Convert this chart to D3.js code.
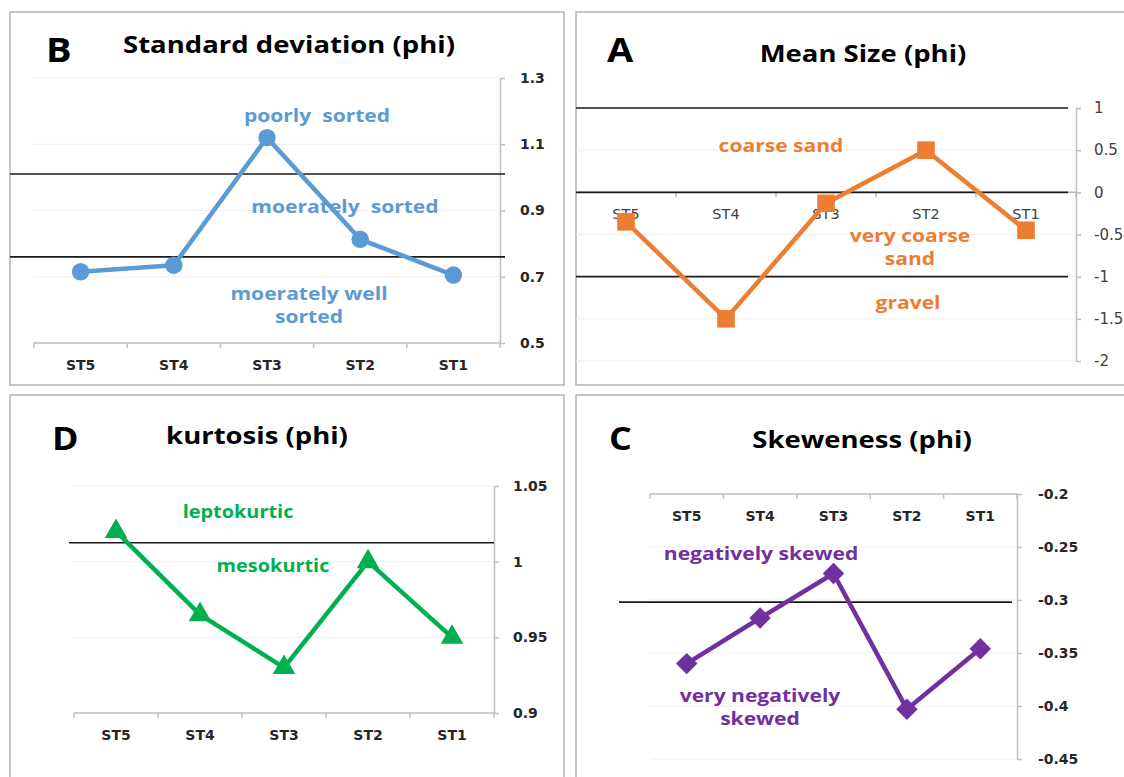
<!DOCTYPE html>
<html><head><meta charset="utf-8">
<script src="https://cdn.jsdelivr.net/npm/d3@7"></script>
<style>
html,body{margin:0;padding:0;background:#fff;}
svg{display:block;}
</style></head>
<body>
<svg id="chart" width="1124" height="777"></svg>
<script>
// ---------------- DATA ----------------
const categories = ["ST5", "ST4", "ST3", "ST2", "ST1"];

const sdValues   = [0.715, 0.735, 1.12, 0.813, 0.705];   // Standard deviation (phi)
const meanValues = [-0.35, -1.5, -0.13, 0.5, -0.45];      // Mean size (phi)
const kurtValues = [1.02, 0.965, 0.93, 1.0, 0.95];        // Kurtosis (phi)
const skewValues = [-0.36, -0.317, -0.275, -0.403, -0.346]; // Skeweness (phi)

const sdTicks   = [0.5, 0.7, 0.9, 1.1, 1.3];
const meanTicks = [-2, -1.5, -1, -0.5, 0, 0.5, 1];
const kurtTicks = [0.9, 0.95, 1, 1.05];
const skewTicks = [-0.45, -0.4, -0.35, -0.3, -0.25, -0.2];

const sdBounds   = [1.01, 0.76];
const meanBounds = [1, 0, -1];
const kurtBounds = [1.0125];
const skewBounds = [-0.302];

const sdLabels   = [["poorly  sorted"], ["moerately  sorted"], ["moerately well", "sorted"]];
const meanLabels = [["coarse sand"], ["very coarse", "sand"], ["gravel"]];
const kurtLabels = [["leptokurtic"], ["mesokurtic"]];
const skewLabels = [["negatively skewed"], ["very negatively", "skewed"]];

// ---------------- DRAW ----------------
const svg = d3.select("#chart");
svg.append("rect").attr("width", 1124).attr("height", 777).attr("fill", "#fff");

const FONT = "'Open Sans', 'Noto Sans', sans-serif";
const AXFONT = "'DejaVu Sans', Verdana, sans-serif";
const SX = 1.17; // horizontal stretch of the reference lettering
const fmt = v => String(v);

function panel(cfg) {
  const g = svg.append("g");
  g.append("rect").attr("x", cfg.frame[0]).attr("y", cfg.frame[1])
    .attr("width", cfg.frame[2]).attr("height", cfg.frame[3])
    .attr("fill", "#fff").attr("stroke", "#b4b4b4").attr("stroke-width", 1.5);

  const x = d3.scaleBand().domain(categories).range(cfg.xRange).padding(0);
  const y = d3.scaleLinear().domain(cfg.yDomain).range(cfg.yRange);

  // gridlines
  g.append("g").selectAll("line").data(cfg.ticks).join("line")
    .attr("x1", cfg.xRange[0]).attr("x2", cfg.xRange[1])
    .attr("y1", d => y(d)).attr("y2", d => y(d))
    .attr("stroke", "#efefef").attr("stroke-width", 1);

  // category axis line + boundary ticks
  const axY = y(cfg.xAxisAt);
  const bounds = categories.map(c => x(c)).concat([cfg.xRange[1]]);
  g.append("line").attr("x1", cfg.xRange[0]).attr("x2", cfg.xRange[1])
    .attr("y1", axY).attr("y2", axY).attr("stroke", "#bfbfbf").attr("stroke-width", 1.5);
  g.append("g").selectAll("line").data(bounds).join("line")
    .attr("x1", d => d).attr("x2", d => d).attr("y1", axY).attr("y2", axY + 5)
    .attr("stroke", "#bfbfbf").attr("stroke-width", 1.5);

  // category labels via d3 axis
  const xa = g.append("g").attr("transform", `translate(0,${cfg.catLabelY})`)
    .call(d3.axisBottom(x).tickSize(0).tickPadding(0));
  xa.select(".domain").remove();
  xa.selectAll("text").attr("dy", 0).attr("y", 0)
    .attr("font-family", AXFONT).attr("font-size", cfg.catSize)
    .attr("font-weight", cfg.catBold ? "bold" : "normal").attr("fill", cfg.catColor);

  // value axis (right)
  const ya = g.append("g").attr("transform", `translate(${cfg.xRange[1]},0)`)
    .call(d3.axisRight(y).tickValues(cfg.ticks).tickFormat(fmt).tickSize(5).tickSizeOuter(0).tickPadding(cfg.tickPad));
  ya.select(".domain").attr("stroke", "#bfbfbf").attr("stroke-width", 1.5);
  ya.selectAll(".tick line").attr("stroke", "#bfbfbf").attr("stroke-width", 1.5);
  ya.selectAll("text").attr("font-family", AXFONT).attr("font-size", cfg.tickSize)
    .attr("font-weight", cfg.tickBold ? "bold" : "normal").attr("fill", cfg.tickColor);

  // class boundary lines
  g.append("g").selectAll("line").data(cfg.bounds).join("line")
    .attr("x1", cfg.boundX[0]).attr("x2", cfg.boundX[1])
    .attr("y1", d => y(d)).attr("y2", d => y(d))
    .attr("stroke", "#1a1a1a").attr("stroke-width", 1.6);

  // annotation labels
  cfg.labels.forEach((lines, i) => {
    const p = cfg.labelPos[i];
    const t = g.append("text").attr("transform", `translate(${p[0]},${p[1]}) scale(${SX},1)`)
      .attr("text-anchor", "middle").attr("font-family", FONT)
      .attr("font-size", cfg.labelSize).attr("font-weight", "bold").attr("fill", cfg.color);
    lines.forEach((ln, j) => {
      t.append("tspan").attr("x", 0).attr("dy", j === 0 ? 0 : cfg.lineGap)
        .style("white-space", "pre").text(ln);
    });
  });

  // series line
  const pts = categories.map((c, i) => [x(c) + x.bandwidth() / 2, y(cfg.values[i])]);
  g.append("path").attr("d", d3.line()(pts)).attr("fill", "none")
    .attr("stroke", cfg.color).attr("stroke-width", 4.5).attr("stroke-linejoin", "round");

  // markers
  g.append("g").selectAll("path").data(pts).join("path")
    .attr("transform", d => `translate(${d[0]},${d[1]}) rotate(${cfg.symbolRot || 0})`)
    .attr("d", d3.symbol().type(cfg.symbol).size(cfg.symbolSize))
    .attr("fill", cfg.color);

  // title and letter
  g.append("text").attr("transform", `translate(${cfg.title[1]},${cfg.title[2]}) scale(${SX},1)`)
    .attr("text-anchor", "middle")
    .attr("font-family", FONT).attr("font-size", 23.5).attr("font-weight", "bold").attr("fill", "#000")
    .text(cfg.title[0]);
  g.append("text").attr("transform", `translate(${cfg.letter[1]},${cfg.letter[2]}) scale(1.12,1)`)
    .attr("font-family", "'Open Sans', sans-serif").attr("font-size", cfg.letter[3])
    .attr("font-weight", "bold").attr("fill", "#000").text(cfg.letter[0]);
}

// Panel B - Standard deviation
panel({
  frame: [10, 12, 554, 373], xRange: [34, 500], yDomain: [0.5, 1.3], yRange: [343, 78],
  ticks: sdTicks, xAxisAt: 0.5, catLabelY: 370, catSize: 14, catBold: true, catColor: "#262626",
  tickPad: 15, tickSize: 14, tickBold: true, tickColor: "#262626",
  bounds: sdBounds, boundX: [10, 505],
  labels: sdLabels, labelPos: [[317, 122], [345, 213], [309, 300]], labelSize: 18, lineGap: 23,
  values: sdValues, color: "#5b9bd5", symbol: d3.symbolCircle, symbolSize: 240,
  title: ["Standard deviation (phi)", 289, 53], letter: ["B", 46, 62, 34]
});

// Panel A - Mean size
panel({
  frame: [576, 12, 560, 373], xRange: [576, 1076], yDomain: [-2, 1], yRange: [361, 108],
  ticks: meanTicks, xAxisAt: 0, catLabelY: 219, catSize: 14.5, catBold: false, catColor: "#404040",
  tickPad: 13, tickSize: 15, tickBold: false, tickColor: "#404040",
  bounds: meanBounds, boundX: [576, 1068],
  labels: meanLabels, labelPos: [[781, 152], [910, 242], [908, 309]], labelSize: 18, lineGap: 23,
  values: meanValues, color: "#ed7d31", symbol: d3.symbolSquare, symbolSize: 310,
  title: ["Mean Size (phi)", 863, 62], letter: ["A", 607, 62, 34]
});

// Panel D - Kurtosis
panel({
  frame: [10, 395, 554, 400], xRange: [74, 494], yDomain: [0.9, 1.05], yRange: [713, 486],
  ticks: kurtTicks, xAxisAt: 0.9, catLabelY: 740, catSize: 14, catBold: true, catColor: "#262626",
  tickPad: 14, tickSize: 14, tickBold: true, tickColor: "#262626",
  bounds: kurtBounds, boundX: [69, 494],
  labels: kurtLabels, labelPos: [[238, 518], [273, 572]], labelSize: 17, lineGap: 23,
  values: kurtValues, color: "#00b050", symbol: d3.symbolTriangle, symbolSize: 220,
  title: ["kurtosis (phi)", 257, 444], letter: ["D", 52, 450, 32]
});

// Panel C - Skeweness
panel({
  frame: [576, 395, 560, 400], xRange: [650, 1017], yDomain: [-0.45, -0.2], yRange: [759, 494],
  ticks: skewTicks, xAxisAt: -0.2, catLabelY: 521, catSize: 14, catBold: true, catColor: "#262626",
  tickPad: 16, tickSize: 14, tickBold: true, tickColor: "#262626",
  bounds: skewBounds, boundX: [619, 1012],
  labels: skewLabels, labelPos: [[761, 560], [760, 702]], labelSize: 18, lineGap: 23,
  values: skewValues, color: "#7030a0", symbol: d3.symbolSquare, symbolSize: 230, symbolRot: 45,
  title: ["Skeweness (phi)", 862, 448], letter: ["C", 609, 450, 32]
});
</script>
</body></html>
